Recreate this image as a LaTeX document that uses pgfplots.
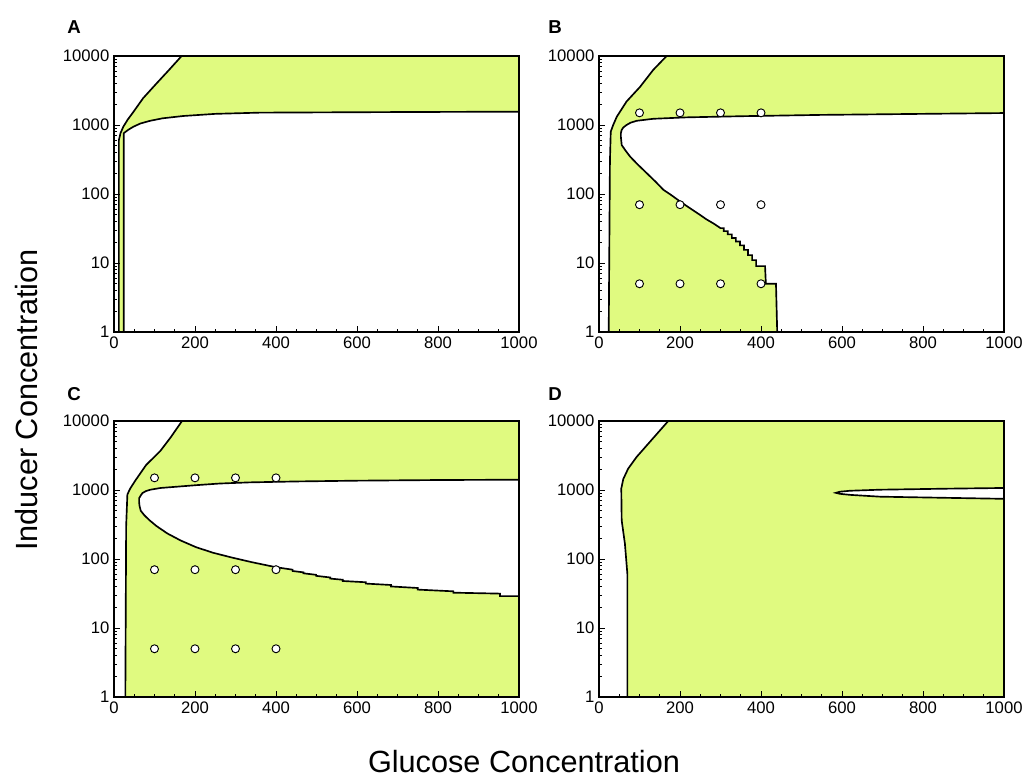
\documentclass[border=0pt]{standalone}
\usepackage{fontspec}
\setmainfont{Liberation Sans}
\usepackage{pgfplots}
\pgfplotsset{compat=1.18}
\definecolor{regionfill}{RGB}{224,250,128}

\pgfplotsset{
  panel/.style={
    scale only axis, width=303.75pt, height=207pt, anchor=south west,
    xmin=0, xmax=1000, ymin=1, ymax=10000,
    xtick={0,200,400,600,800,1000}, xticklabels={0,200,400,600,800,1000},
    minor x tick num=3,
    ytick={1,10,100,1000,10000}, yticklabels={1,10,100,1000,10000},
    xtick pos=bottom, ytick pos=left, tick align=inside,
    major tick length=4.5pt, minor tick length=2.25pt,
    axis line style={line width=1.1pt},
    tick style={black, line width=0.6pt},
    ticklabel style={font=\fontsize{12.5}{14}\selectfont},
    axis on top,
  },
  region/.style={fill=regionfill, draw=black, line width=1.25pt},
  pts/.style={only marks, mark=*, mark size=3pt,
    mark options={fill=white, draw=black, line width=0.7pt}},
}

\begin{document}
\begin{tikzpicture}
\path[use as bounding box] (0,0) rectangle (768pt,583.5pt);

% A
\begin{axis}[ymode=log, panel, at={(85.5pt,334.5pt)}]
\addplot[region] coordinates {(12,1) (12,600) (16,760) (23,945) (34,1200) (48,1550) (72,2450) (105,4000) (135,6200) (167,10000)
  (1000,10000) (1000,1560) (700,1540) (360,1510) (250,1450) (171,1350) (120,1250) (89,1150) (65,1050) (48,945) (35,850) (24,760) (24,1)} -- cycle;
\end{axis}

% B
\begin{axis}[ymode=log, panel, at={(449.25pt,334.5pt)}]
\addplot[region] coordinates {(24,1) (27,300) (29,800) (35,1000) (44,1320) (68,2190) (101,3550) (134,6300) (167,10000)
  (1000,10000) (1000,1490) (800,1450) (546,1400) (350,1340) (216,1290) (134,1230) (93,1150) (78,1080) (68,1000) (60,920) (56,850)
  (54,760) (54,676) (55,590) (56,513) (65,430) (77,347) (95,270) (118,200) (140,150) (159,115) (180,95) (200,78) (225,62)
  (249,50) (265,43) (282,37.6) (300,32)
  (308,32) (308,29) (318,29) (318,26) (328,26) (328,23) (338,23) (338,20.5) (348,20.5) (348,18)
  (358,18) (358,15.5) (368,15.5) (368,13) (378,13) (378,11) (388,11) (388,9)
  (410,9) (412,5) (437,5) (440,1)} -- cycle;
\addplot[pts] coordinates {(100,1500) (200,1500) (300,1500) (400,1500) (100,70) (200,70) (300,70) (400,70) (100,5) (200,5) (300,5) (400,5)};
\end{axis}

% C
\begin{axis}[ymode=log, panel, at={(85.5pt,60.75pt)}]
\addplot[region] coordinates {(28,1) (30,300) (33,860) (40,1050) (53,1380) (79,2290) (115,3720) (140,5800) (168,10000)
  (1000,10000) (1000,1410) (800,1395) (600,1365) (450,1330) (335,1290) (260,1240) (203,1175) (150,1110) (115,1070) (90,1010)
  (79,966) (70,900) (66,832) (62,760) (62,676) (63,590) (66,501) (75,430) (88,363) (105,300) (132,234) (165,185) (203,148)
  (245,123) (291,105) (340,90) (400,76)
  (441,70) (441,67) (468,64) (468,62) (499,59) (499,57) (534,54) (534,52) (565,50) (565,48) (622,46) (622,44) (684,42) (684,40)
  (750,38) (750,36) (838,34) (838,32.5) (953,31.5) (953,29) (1000,29) (1000,1)} -- cycle;
\addplot[pts] coordinates {(100,1500) (200,1500) (300,1500) (400,1500) (100,70) (200,70) (300,70) (400,70) (100,5) (200,5) (300,5) (400,5)};
\end{axis}

% D
\begin{axis}[ymode=log, panel, at={(449.25pt,60.75pt)}]
\addplot[region] coordinates {(70,1) (70,61) (64,166) (56,363) (55,1050) (60,1445) (72,2040) (93,3020) (126,5010) (171,10000)
  (1000,10000) (1000,1)} -- cycle;
\addplot[fill=white, draw=black, line width=1.25pt] coordinates {(1000,1070) (858,1045) (694,1010) (620,975) (595,945) (585,910)
  (595,880) (620,850) (694,800) (858,770) (1000,745)} -- cycle;
\end{axis}

\node[font=\fontsize{14}{16}\selectfont\bfseries] at (55.5pt,563.25pt) {A};
\node[font=\fontsize{14}{16}\selectfont\bfseries] at (416.25pt,563.25pt) {B};
\node[font=\fontsize{14}{16}\selectfont\bfseries] at (55.5pt,288pt) {C};
\node[font=\fontsize{14}{16}\selectfont\bfseries] at (416.25pt,288pt) {D};

\node[font=\fontsize{23}{26}\selectfont, rotate=90, anchor=base] at (27.75pt,283.5pt) {Inducer Concentration};
\node[font=\fontsize{23}{26}\selectfont, anchor=base] at (393pt,4pt) {Glucose Concentration};
\end{tikzpicture}
\end{document}
